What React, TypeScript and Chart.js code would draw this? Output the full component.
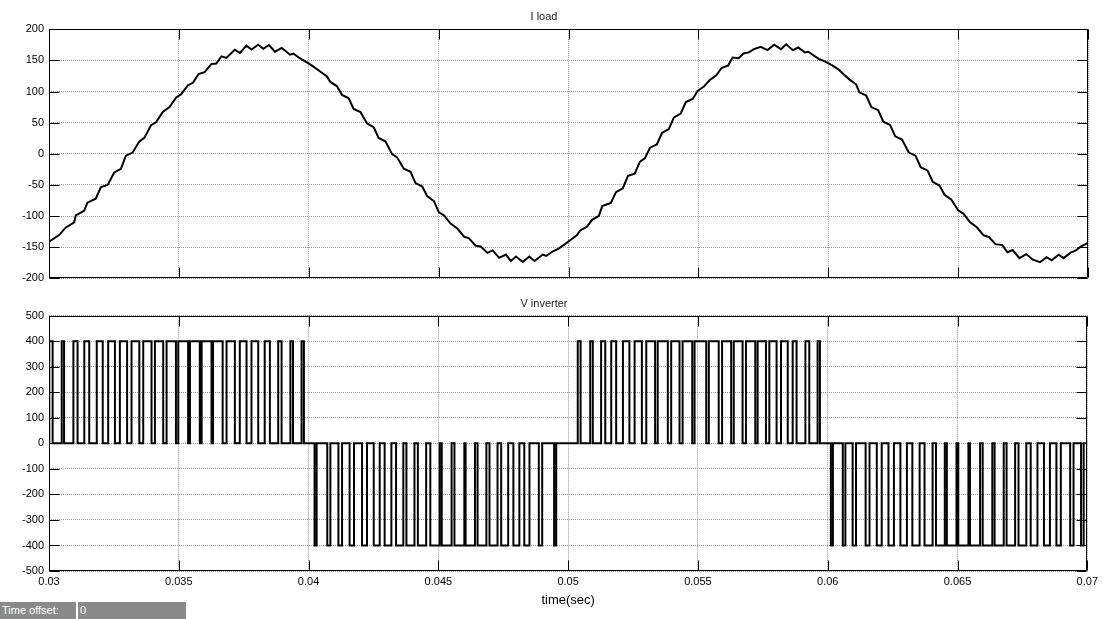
import { useEffect, useRef } from "react";
import { Chart, registerables } from "chart.js";

Chart.register(...registerables);

// ---------- axis ticks ----------
const xTickValues = [0.03, 0.035, 0.04, 0.045, 0.05, 0.055, 0.06, 0.065, 0.07];
const xTickLabels = ["0.03", "0.035", "0.04", "0.045", "0.05", "0.055", "0.06", "0.065", "0.07"];
const iTickValues = [-200, -150, -100, -50, 0, 50, 100, 150, 200];
const vTickValues = [-500, -400, -300, -200, -100, 0, 100, 200, 300, 400, 500];

// ---------- I load (time in s, current in A) ----------
const iTime = [
  0.03, 0.03039, 0.03064, 0.03097, 0.03103, 0.03135, 0.03148, 0.0318, 0.032, 0.03226,
  0.03251, 0.03277, 0.03296, 0.03322, 0.03348, 0.03367, 0.03393, 0.03412, 0.03438, 0.03464,
  0.0349, 0.03509, 0.03535, 0.03554, 0.03576, 0.03599, 0.03625, 0.03644, 0.03664, 0.03683,
  0.03715, 0.03735, 0.0376, 0.0378, 0.03805, 0.03825, 0.03847, 0.0387, 0.03896, 0.03928,
  0.03941, 0.03967, 0.03999, 0.04018, 0.04044, 0.0407, 0.04083, 0.04108, 0.04128, 0.04153,
  0.04173, 0.04199, 0.04224, 0.0425, 0.04269, 0.04295, 0.04321, 0.0434, 0.04366, 0.04392,
  0.04411, 0.04437, 0.04456, 0.04482, 0.04501, 0.04521, 0.04546, 0.04572, 0.04598, 0.04617,
  0.04643, 0.04662, 0.04688, 0.04708, 0.04733, 0.04759, 0.04778, 0.04798, 0.04824, 0.04849,
  0.04869, 0.04901, 0.04914, 0.0494, 0.04959, 0.04988,
  0.05006, 0.05032, 0.05045, 0.05071, 0.05091, 0.05117, 0.0513, 0.05163, 0.05183, 0.05209,
  0.05229, 0.05255, 0.05275, 0.05294, 0.05314, 0.0534, 0.0536, 0.05386, 0.05406, 0.05432,
  0.05452, 0.05478, 0.05497, 0.0552, 0.05543, 0.05569, 0.05589, 0.05615, 0.05632, 0.05655,
  0.05674, 0.05694, 0.05714, 0.0574, 0.05766, 0.05792, 0.05818, 0.05838, 0.05864, 0.05884,
  0.0591, 0.05923, 0.05963, 0.05989, 0.06015, 0.06041, 0.06061, 0.06081, 0.06107, 0.0612,
  0.06146, 0.06166, 0.06192, 0.06212, 0.06238, 0.06258, 0.06284, 0.0631, 0.06336, 0.06356,
  0.06382, 0.06402, 0.06428, 0.06448, 0.06474, 0.065, 0.0652, 0.06546, 0.06572, 0.06598,
  0.06618, 0.06644, 0.0667, 0.0669, 0.0671, 0.06736, 0.06762, 0.06788, 0.06815, 0.06841,
  0.0686, 0.06887, 0.06906, 0.06933, 0.06952, 0.06972, 0.07,
];
const iLoad = [
  -141, -130.5, -118.6, -110, -99, -91.5, -78.5, -72, -53.5, -50,
  -30, -24, -3, 2, 20, 25.5, 46, 50.5, 67, 75,
  90.5, 95.7, 110, 114, 128, 131, 144, 145, 156.5, 154,
  167, 162, 173.7, 167.4, 175, 168.5, 174.7, 164, 170, 159,
  160.7, 153, 145, 140, 132, 124, 115.4, 108.7, 94.6, 89.4,
  72, 67, 49, 42.6, 25.5, 20, -0.5, -5.7, -24, -29,
  -47, -52.5, -68, -76, -94, -99, -112, -120, -133, -135.7,
  -147.7, -148.7, -159, -155, -167, -161.7, -172, -165, -173.7, -165,
  -172, -161.7, -164, -156.5, -153, -144.6,
  -138.8, -131, -123, -117, -106, -99.6, -84, -78.8, -61.6, -55.3,
  -35.5, -31.8, -12.5, -7.3, 9.9, 15, 33.4, 39.6, 58.4, 64.7,
  83, 88, 101, 107.5, 118, 126, 137.7, 142, 154.4, 153.4,
  161, 162.8, 168, 171.6, 166.4, 175, 168, 175.8, 166.4, 170.6,
  162.8, 163.8, 152.3, 148, 142, 135, 127, 119.5, 111.6, 98.6,
  93.4, 75, 70, 51.6, 46.4, 28, 23, 2, -3, -21.4,
  -26.6, -44.9, -51, -65.7, -73.6, -90.8, -96, -110, -118, -131,
  -133.5, -145, -146.6, -158, -154.4, -167.5, -161, -170, -174, -166,
  -171, -162, -167.5, -158.6, -155.5, -149, -143,
];

// ---------- V inverter: PWM pulse edges (s) ----------
const vPosLevel = 400;
const vNegLevel = -400;
const posOn = [
  0.03001, 0.03049, 0.03094, 0.03136, 0.03184, 0.03228, 0.03273, 0.03318, 0.03363, 0.03408, 0.03453,
  0.03498, 0.03543, 0.03588, 0.03632, 0.03684, 0.03735, 0.0378, 0.03831, 0.03883, 0.0393, 0.03973,
  0.05037, 0.05085, 0.05127, 0.05166, 0.05211, 0.05256, 0.05301, 0.05345, 0.05397, 0.05441, 0.05487,
  0.05542, 0.05593, 0.05638, 0.05685, 0.0573, 0.05775, 0.0582, 0.05865, 0.05914, 0.05961,
];
const posOff = [
  0.03014, 0.03058, 0.0311, 0.03155, 0.03207, 0.03254, 0.03301, 0.03348, 0.03395, 0.0344, 0.03489,
  0.03536, 0.03581, 0.03626, 0.03669, 0.03716, 0.03761, 0.03806, 0.03851, 0.03896, 0.0394, 0.03982,
  0.05048, 0.05095, 0.05143, 0.05185, 0.05236, 0.05284, 0.05335, 0.05384, 0.05429, 0.05478, 0.05532,
  0.0558, 0.05628, 0.05672, 0.05721, 0.05762, 0.05803, 0.05846, 0.0588, 0.05929, 0.0597,
];
const negOn = [
  0.04023, 0.04072, 0.04115, 0.04158, 0.04206, 0.04251, 0.04293, 0.04337, 0.04377, 0.04421, 0.04469,
  0.04513, 0.04562, 0.04605, 0.04651, 0.04697, 0.04742, 0.04789, 0.04831, 0.04887, 0.04946,
  0.06012, 0.06058, 0.06096, 0.06146, 0.06189, 0.06234, 0.0628, 0.06326, 0.06373, 0.06417, 0.06459,
  0.06503, 0.06548, 0.06597, 0.06643, 0.06689, 0.06735, 0.06782, 0.06833, 0.06881, 0.06934, 0.06976,
];
const negOff = [
  0.04031, 0.04084, 0.04129, 0.04175, 0.04225, 0.04274, 0.04319, 0.04365, 0.04408, 0.04453, 0.04505,
  0.04551, 0.046, 0.04641, 0.04685, 0.04728, 0.04769, 0.04812, 0.04851, 0.049, 0.04954,
  0.0602, 0.06068, 0.06109, 0.06161, 0.06208, 0.06255, 0.06305, 0.06354, 0.06404, 0.06451, 0.06496,
  0.06542, 0.06587, 0.06634, 0.06678, 0.06722, 0.06765, 0.06808, 0.06856, 0.06898, 0.06947, 0.06986,
];

const FONT = '"Liberation Sans", Arial, Helvetica, sans-serif';
const GRID = "#9a9a9a";

function buildCurrent() {
  return iTime.map((t, k) => ({ x: t, y: iLoad[k] }));
}

function buildVoltage() {
  const pulses: { on: number; off: number; lvl: number }[] = [];
  posOn.forEach((t, k) => pulses.push({ on: t, off: posOff[k], lvl: vPosLevel }));
  negOn.forEach((t, k) => pulses.push({ on: t, off: negOff[k], lvl: vNegLevel }));
  pulses.sort((a, b) => a.on - b.on);
  const pts: { x: number; y: number }[] = [{ x: xTickValues[0], y: 0 }];
  for (const p of pulses) {
    pts.push({ x: p.on, y: 0 }, { x: p.on, y: p.lvl }, { x: p.off, y: p.lvl }, { x: p.off, y: 0 });
  }
  pts.push({ x: xTickValues[xTickValues.length - 1], y: 0 });
  return pts;
}

function framePlugin(yTicks: number[]) {
  return {
    id: "matlabFrame",
    afterDraw(chart: any) {
      const { ctx, chartArea: a } = chart;
      const xs = chart.scales.x;
      const ys = chart.scales.y;
      const L = Math.round(a.left) + 0.5;
      const R = Math.round(a.right) - 0.5;
      const T = Math.round(a.top) + 0.5;
      const B = Math.round(a.bottom) - 0.5;
      ctx.save();
      ctx.strokeStyle = "#000";
      ctx.lineWidth = 1;
      ctx.setLineDash([]);
      ctx.beginPath();
      ctx.rect(L, T, R - L, B - T);
      for (const v of xTickValues) {
        const p = Math.round(xs.getPixelForValue(v)) + 0.5;
        ctx.moveTo(p, T);
        ctx.lineTo(p, T + 10);
        ctx.moveTo(p, B);
        ctx.lineTo(p, B - 10);
      }
      for (const v of yTicks) {
        const p = Math.round(ys.getPixelForValue(v)) + 0.5;
        ctx.moveTo(L, p);
        ctx.lineTo(L + 10, p);
        ctx.moveTo(R, p);
        ctx.lineTo(R - 10, p);
      }
      ctx.stroke();
      ctx.restore();
    },
  };
}

function makeConfig(opts: {
  data: { x: number; y: number }[];
  title: string;
  titlePad: { top: number; bottom: number };
  yMin: number;
  yMax: number;
  yTicks: number[];
  showX: boolean;
  xHeight: number;
  bottomPad: number;
}): any {
  return {
    type: "line",
    data: {
      datasets: [
        {
          data: opts.data,
          borderColor: "#000",
          borderWidth: 2,
          pointRadius: 0,
          tension: 0,
          fill: false,
          borderJoinStyle: "miter",
        },
      ],
    },
    options: {
      animation: false,
      responsive: false,
      events: [],
      layout: { padding: { left: 0, right: 14, top: 0, bottom: opts.bottomPad } },
      plugins: {
        legend: { display: false },
        tooltip: { enabled: false },
        title: {
          display: true,
          text: opts.title,
          color: "#222",
          font: { family: FONT, size: 11, weight: "normal" },
          padding: opts.titlePad,
        },
      },
      scales: {
        x: {
          type: "linear",
          min: xTickValues[0],
          max: xTickValues[xTickValues.length - 1],
          afterBuildTicks: (s: any) => {
            s.ticks = xTickValues.map((v) => ({ value: v }));
          },
          afterFit: (s: any) => {
            s.height = opts.xHeight;
          },
          ticks: {
            display: opts.showX,
            color: "#000",
            font: { family: FONT, size: 11 },
            padding: 4,
            maxRotation: 0,
            autoSkip: false,
            callback: (_v: any, i: number) => xTickLabels[i],
          },
          title: {
            display: opts.showX,
            text: "time(sec)",
            color: "#000",
            font: { family: FONT, size: 13 },
            padding: { top: 0, bottom: 11 },
          },
          grid: { color: GRID, lineWidth: 1, drawTicks: false },
          border: { display: false, dash: [1, 1] },
        },
        y: {
          min: opts.yMin,
          max: opts.yMax,
          afterBuildTicks: (s: any) => {
            s.ticks = opts.yTicks.map((v) => ({ value: v }));
          },
          afterFit: (s: any) => {
            s.width = 49;
          },
          ticks: {
            color: "#000",
            font: { family: FONT, size: 11 },
            padding: 5,
            autoSkip: false,
          },
          grid: { color: GRID, lineWidth: 1, drawTicks: false },
          border: { display: false, dash: [1, 1] },
        },
      },
    },
    plugins: [framePlugin(opts.yTicks)],
  };
}

export default function App() {
  const topRef = useRef<HTMLCanvasElement | null>(null);
  const botRef = useRef<HTMLCanvasElement | null>(null);

  useEffect(() => {
    const c1 = new Chart(
      topRef.current as HTMLCanvasElement,
      makeConfig({
        data: buildCurrent(),
        title: "I load",
        titlePad: { top: 10, bottom: 6 },
        yMin: -200,
        yMax: 200,
        yTicks: iTickValues,
        showX: false,
        xHeight: 0,
        bottomPad: 6,
      })
    );
    const c2 = new Chart(
      botRef.current as HTMLCanvasElement,
      makeConfig({
        data: buildVoltage(),
        title: "V inverter",
        titlePad: { top: 7, bottom: 5.5 },
        yMin: -500,
        yMax: 500,
        yTicks: vTickValues,
        showX: true,
        xHeight: 48,
        bottomPad: 0,
      })
    );
    return () => {
      c1.destroy();
      c2.destroy();
    };
  }, []);

  return (
    <div
      style={{
        position: "absolute",
        left: 0,
        top: 0,
        width: 1102,
        height: 619,
        background: "#fff",
        overflow: "hidden",
        fontFamily: FONT,
      }}
    >
      <canvas ref={topRef} width={1102} height={290} style={{ position: "absolute", left: 0, top: 0 }} />
      <canvas ref={botRef} width={1102} height={329} style={{ position: "absolute", left: 0, top: 290 }} />
      <div
        style={{
          position: "absolute",
          left: 0,
          top: 602,
          width: 186,
          height: 17,
          background: "#8a8a8a",
          color: "#fff",
          fontSize: 11,
          lineHeight: "17px",
        }}
      >
        <span style={{ position: "absolute", left: 2, top: 0 }}>Time offset:</span>
        <div style={{ position: "absolute", left: 76, top: 0, width: 2, height: 17, background: "#fff" }} />
        <span style={{ position: "absolute", left: 80, top: 0 }}>0</span>
      </div>
    </div>
  );
}
